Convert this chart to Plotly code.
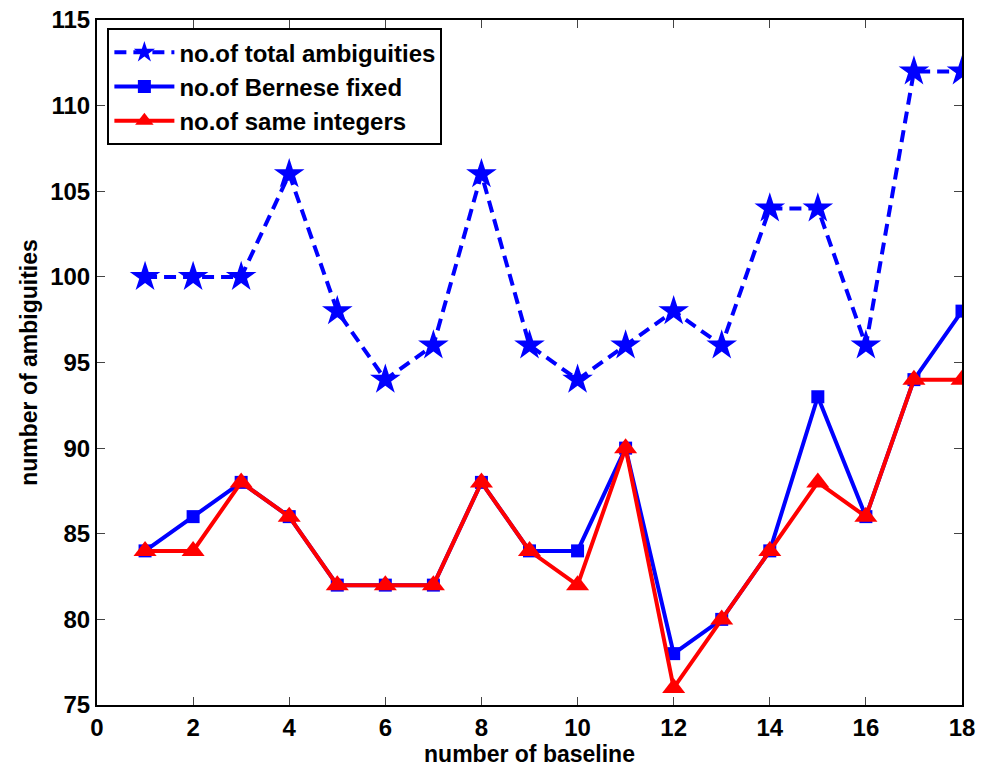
import plotly.graph_objects as go

baseline = list(range(1, 19))
total_amb = [100, 100, 100, 106, 98, 94, 96, 106, 96, 94, 96, 98, 96, 104, 104, 96, 112, 112]
bernese_fixed = [84, 86, 88, 86, 82, 82, 82, 88, 84, 84, 90, 78, 80, 84, 93, 86, 94, 98]
same_int = [84, 84, 88, 86, 82, 82, 82, 88, 84, 82, 90, 76, 80, 84, 88, 86, 94, 94]

fig = go.Figure()
fig.add_trace(go.Scatter(x=baseline, y=total_amb, mode="lines+markers",
                         name="no.of total ambiguities",
                         line=dict(color="#0000ff", width=4, dash="12px,7px"),
                         marker=dict(symbol="star", size=23, color="#0000ff")))
fig.add_trace(go.Scatter(x=baseline, y=bernese_fixed, mode="lines+markers",
                         name="no.of Bernese fixed",
                         line=dict(color="#0000ff", width=4),
                         marker=dict(symbol="square", size=13, color="#0000ff")))
fig.add_trace(go.Scatter(x=baseline, y=same_int, mode="lines+markers",
                         name="no.of same integers",
                         line=dict(color="#ff0000", width=4),
                         marker=dict(symbol="triangle-up", size=20, color="#ff0000")))

fam = "Liberation Sans, Arial"
tickfont = dict(family=fam, size=24, color="black")
fig.update_layout(
    width=984, height=770,
    paper_bgcolor="white", plot_bgcolor="white",
    margin=dict(l=97, r=22, t=20, b=65),
    font=dict(family=fam, color="black"),
    xaxis=dict(range=[0, 18], dtick=2, tick0=0, ticks="inside", ticklen=8,
               tickcolor="#444", showgrid=False, zeroline=False,
               showline=True, linecolor="black", linewidth=2, mirror="ticks",
               tickfont=tickfont, automargin=False,
               title=dict(text="<b>number of baseline</b>", standoff=0,
                          font=dict(family=fam, size=23))),
    yaxis=dict(range=[75, 115], dtick=5, ticks="inside", ticklen=8,
               tickcolor="#444", showgrid=False, zeroline=False,
               showline=True, linecolor="black", linewidth=2, mirror="ticks",
               tickfont=tickfont, automargin=False,
               title=dict(text="<b>number of ambiguities</b>", standoff=6,
                          font=dict(family=fam, size=23))),
    legend=dict(x=0.012, y=0.988, xanchor="left", yanchor="top",
                bgcolor="white", bordercolor="black", borderwidth=2,
                font=dict(family=fam, size=24, color="black"),
                itemwidth=60, tracegroupgap=0),
)
fig.update_xaxes(tickprefix="<b>", ticksuffix="</b>")
fig.update_yaxes(tickprefix="<b>", ticksuffix="</b>")
for tr in fig.data:
    tr.name = "<b>" + tr.name + "</b>"

fig.write_html("out.html")
